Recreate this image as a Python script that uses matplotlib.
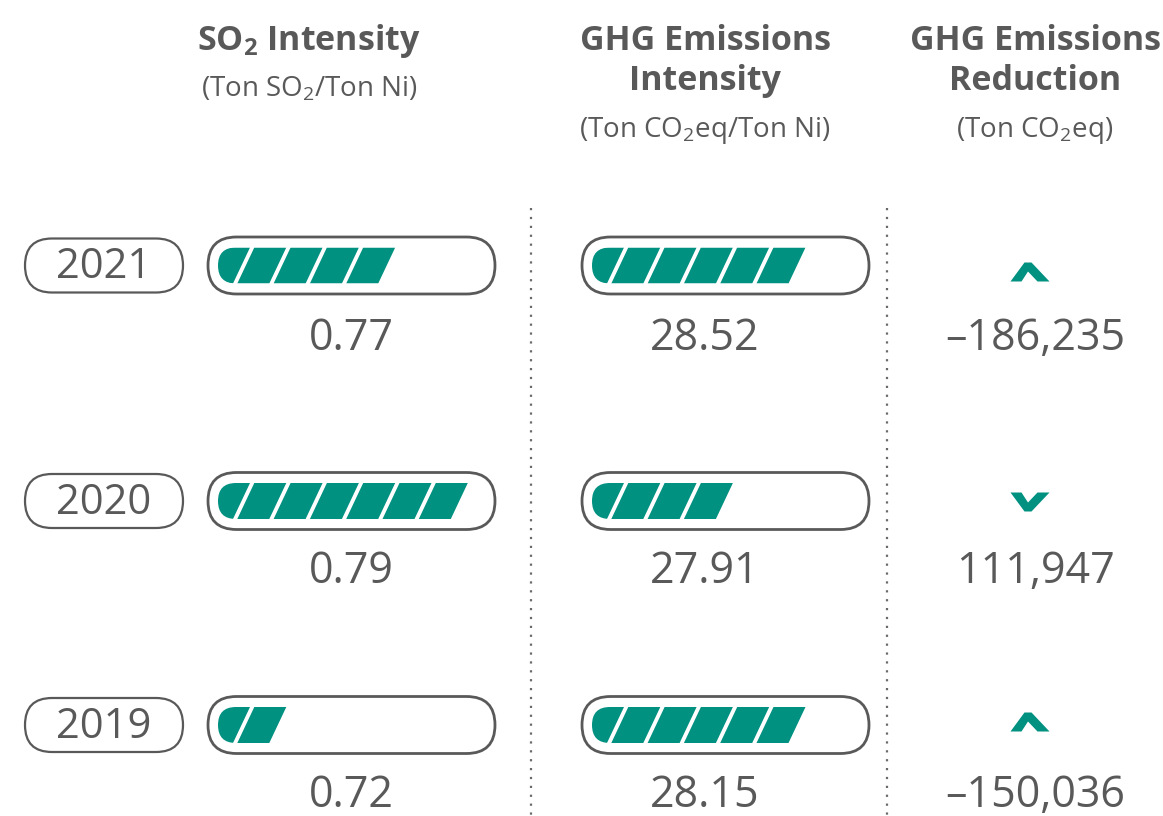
import matplotlib
matplotlib.use("Agg")
import matplotlib.pyplot as plt
from matplotlib.patches import FancyBboxPatch, Polygon

plt.rcParams['font.family'] = ['Open Sans', 'DejaVu Sans']
plt.rcParams['mathtext.fontset'] = 'custom'
plt.rcParams['mathtext.rm'] = 'Open Sans'
plt.rcParams['mathtext.it'] = 'Open Sans'
plt.rcParams['mathtext.bf'] = 'Open Sans:bold'

# data
years = ['2021', '2020', '2019']
so2_values = ['0.77', '0.79', '0.72']
so2_segments = [5, 7, 2]
ghg_values = ['28.52', '27.91', '28.15']
ghg_segments = [6, 4, 6]
reduction_values = [-186235, 111947, -150036]
reduction_arrows = ['up', 'down', 'up']

GRAY = '#595959'
TEAL = '#009181'

row_y = [265.5, 501, 725]
value_y = [339, 572, 796]
arrow_y = [272, 502, 722]
bar_left = [208, 582]

fig = plt.figure(figsize=(11.63, 8.16), dpi=100)
ax = fig.add_axes([0, 0, 1, 1])
ax.set_xlim(0, 1163)
ax.set_ylim(816, 0)
ax.axis('off')


def pill(x, y, w, h, lw):
    p = FancyBboxPatch((x, y), w, h, boxstyle=f"round,pad=0,rounding_size={h/2}",
                       facecolor='white', edgecolor=GRAY, linewidth=lw)
    ax.add_patch(p)


def progress_bar(left, yc, n):
    pill(left, yc - 28.5, 287, 57, 2.0)
    clip = FancyBboxPatch((left + 10, yc - 18), 267, 36,
                          boxstyle="round,pad=0,rounding_size=18",
                          transform=ax.transData, facecolor='none', edgecolor='none')
    for i in range(n):
        tl = left + 10 + i * 36.3
        tr = tl + 32
        pts = [(tl, yc - 18), (tr, yc - 18), (tr - 17, yc + 18), (tl - 17, yc + 18)]
        seg = Polygon(pts, closed=True, facecolor=TEAL, edgecolor='none')
        ax.add_patch(seg)
        seg.set_clip_path(clip)


def chevron(xc, yc, direction):
    # y axis runs downward, so "up" means the apex has the smaller y
    s = 1 if direction == 'up' else -1
    pts = [(-17.5, -9.5), (-3.5, 9.5), (3.5, 9.5), (21.5, -9.5),
           (9.5, -9.5), (0, 0.5), (-6.5, -9.5)]
    pts = [(xc + px, yc - s * py) for px, py in pts]
    ax.add_patch(Polygon(pts, closed=True, facecolor=TEAL, edgecolor='none'))


# headers
ax.text(309, 41, r"SO$_\mathbf{2}$ Intensity", ha='center', va='center',
        fontsize=24.5, fontweight='bold', color=GRAY)
ax.text(309, 89, r"(Ton SO$_2$/Ton Ni)", ha='center', va='center',
        fontsize=20, color=GRAY)
ax.text(705, 41, "GHG Emissions", ha='center', va='center',
        fontsize=24.5, fontweight='bold', color=GRAY)
ax.text(705, 81, "Intensity", ha='center', va='center',
        fontsize=24.5, fontweight='bold', color=GRAY)
ax.text(705, 130, r"(Ton CO$_2$eq/Ton Ni)", ha='center', va='center',
        fontsize=20, color=GRAY)
ax.text(1035, 41, "GHG Emissions", ha='center', va='center',
        fontsize=24.5, fontweight='bold', color=GRAY)
ax.text(1035, 81, "Reduction", ha='center', va='center',
        fontsize=24.5, fontweight='bold', color=GRAY)
ax.text(1035, 130, r"(Ton CO$_2$eq)", ha='center', va='center',
        fontsize=20, color=GRAY)

# dotted separators
for x in [531, 887]:
    ax.plot([x, x], [208, 816], color='#6a6a6a', linewidth=1.6,
            linestyle=(0, (1, 3)))

for i, yr in enumerate(years):
    yc = row_y[i]
    pill(25, yc - 27, 158, 54, 1.6)
    ax.text(104, yc + 2, yr, ha='center', va='center', fontsize=30, color=GRAY)

    progress_bar(bar_left[0], yc, so2_segments[i])
    progress_bar(bar_left[1], yc, ghg_segments[i])

    ax.text(351, value_y[i], so2_values[i], ha='center', va='center',
            fontsize=31, color=GRAY)
    ax.text(705, value_y[i], ghg_values[i], ha='center', va='center',
            fontsize=31, color=GRAY)

    v = reduction_values[i]
    label = f"{abs(v):,}" if v >= 0 else "\u2013" + f"{abs(v):,}"
    ax.text(1035, value_y[i], label, ha='center', va='center',
            fontsize=31, color=GRAY)
    chevron(1028, arrow_y[i], reduction_arrows[i])

fig.savefig('out.png', dpi=100)
